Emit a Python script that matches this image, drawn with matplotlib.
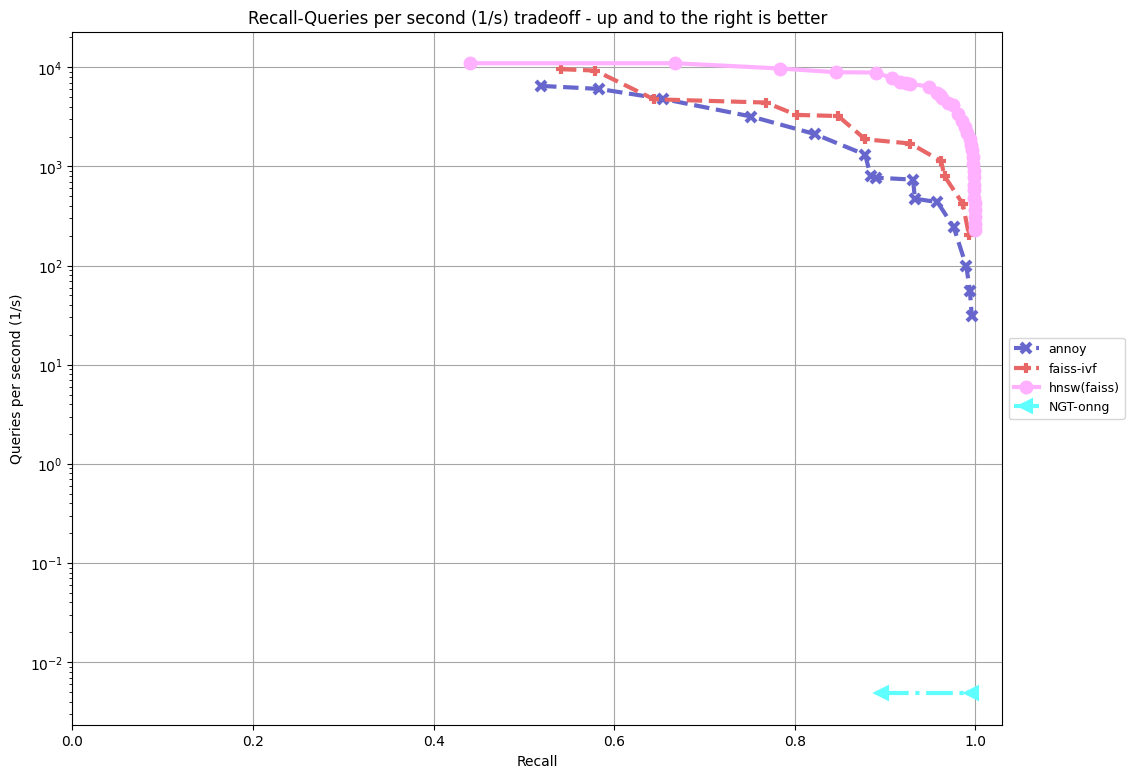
import matplotlib
matplotlib.use("Agg")
import matplotlib.pyplot as plt

# Recall / queries-per-second
annoy_recall = [0.519, 0.583, 0.654, 0.752, 0.822, 0.878, 0.884, 0.890, 0.931,
                0.933, 0.958, 0.976, 0.990, 0.994, 0.996]
annoy_qps = [6480, 6040, 4790, 3180, 2120, 1312, 792, 769, 735, 472, 436, 244,
             98, 55, 31]

faiss_recall = [0.541, 0.579, 0.644, 0.768, 0.802, 0.848, 0.878, 0.928, 0.962,
                0.966, 0.986, 0.993]
faiss_qps = [9550, 9250, 4750, 4400, 3300, 3220, 1875, 1700, 1130, 792, 420, 201]

hnsw_recall = [0.440, 0.6675, 0.784, 0.846, 0.890, 0.908, 0.916, 0.923, 0.928,
               0.949, 0.958, 0.961, 0.963, 0.970, 0.9757, 0.981, 0.985, 0.9886,
               0.991, 0.9942, 0.995, 0.996, 0.997, 0.9975, 0.998, 0.9982,
               0.9985, 0.9988, 0.999, 0.9992, 0.9993, 0.9995]
hnsw_qps = [10970, 10970, 9700, 8900, 8840, 7740, 7170, 6950, 6790, 6380, 5500,
            5200, 4900, 4400, 4130, 3400, 2900, 2500, 2150, 1905, 1650, 1450,
            1250, 1060, 900, 780, 650, 573, 480, 423, 360, 308]
hnsw_recall += [0.9996, 0.9997]
hnsw_qps += [260, 226]

ngt_recall = [0.897, 0.9965]
ngt_qps = [0.00486, 0.00486]

plt.figure(figsize=(12, 9))
ax = plt.gca()

ax.plot(annoy_recall, annoy_qps, label='annoy', color='#6666cc', ms=7, mew=3,
        lw=3, linestyle='--', marker='x')
ax.plot(faiss_recall, faiss_qps, label='faiss-ivf', color='#e86666', ms=7, mew=3,
        lw=3, linestyle='--', marker='+')
ax.plot(hnsw_recall, hnsw_qps, label='hnsw(faiss)', color='#ffb0ff', ms=7, mew=3,
        lw=3, linestyle='-', marker='o')
ax.plot(ngt_recall, ngt_qps, label='NGT-onng', color='#60ffff', ms=7, mew=3,
        lw=3, linestyle='-.', marker='<')

ax.set_yscale('log')
ax.set_xlabel('Recall')
ax.set_ylabel('Queries per second (1/s)')
ax.set_title('Recall-Queries per second (1/s) tradeoff - up and to the right is better')
ax.legend(loc='center left', bbox_to_anchor=(1, 0.5), prop={'size': 9})
plt.grid(visible=True, which='major', color='0.65', linestyle='-')
plt.xlim(0.0, 1.03)

plt.savefig('out.png', bbox_inches='tight')
